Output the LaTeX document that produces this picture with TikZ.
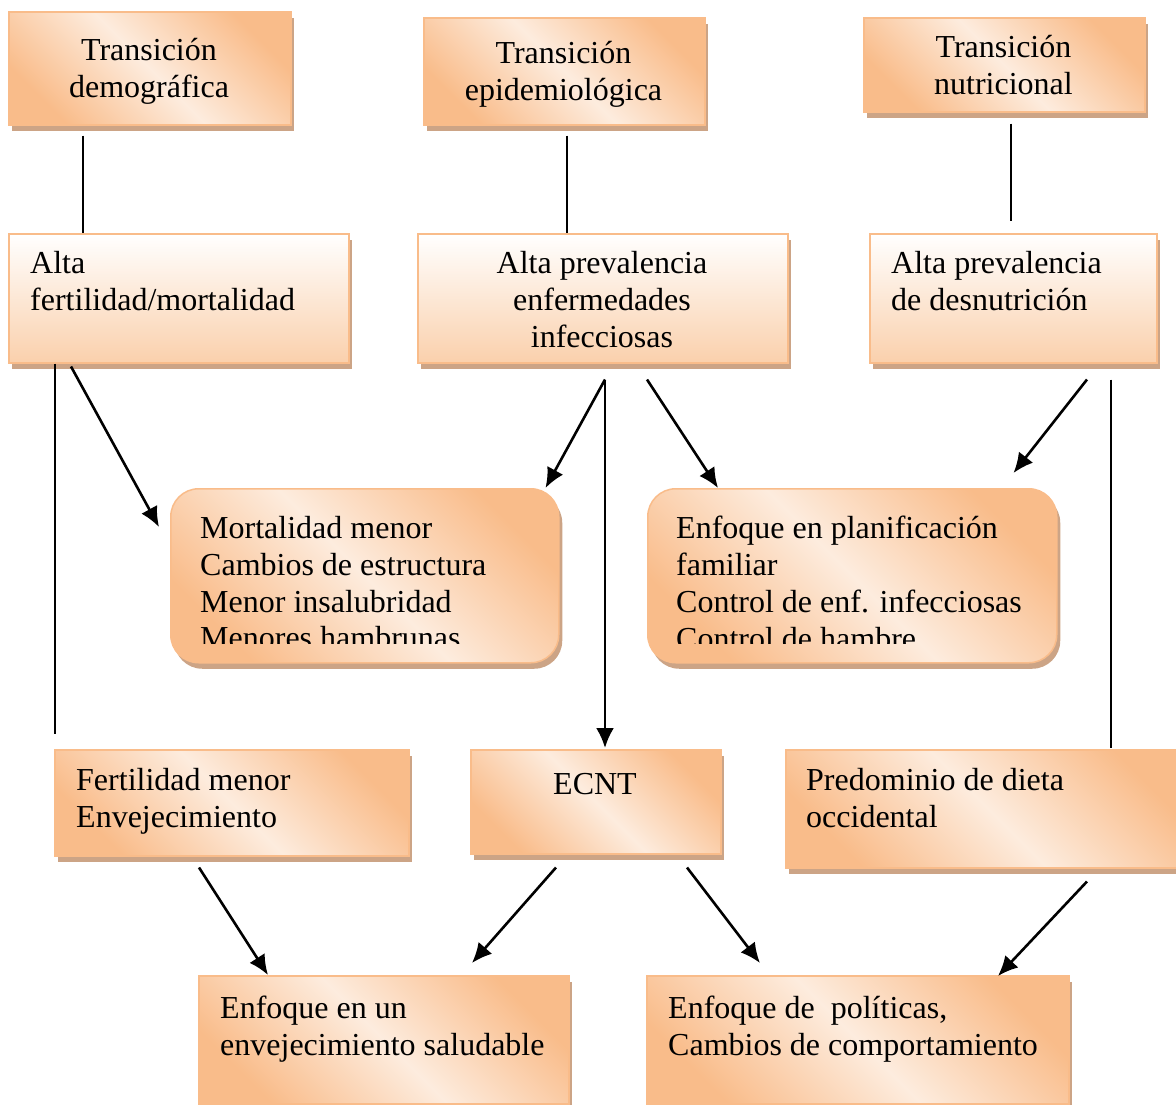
\documentclass[tikz,border=0pt]{standalone}
\usepackage{fontspec}
\setmainfont{Liberation Serif}
\usetikzlibrary{arrows.meta,shadows}
\definecolor{boxorange}{RGB}{249,188,138}
\definecolor{boxlight}{RGB}{253,236,222}
\definecolor{boxpeach}{RGB}{250,208,172}
\definecolor{boxshadow}{RGB}{204,164,134}
\newcommand{\boxfont}{\fontsize{32}{36.8}\selectfont}

\begin{document}
\begin{tikzpicture}%
	[x=1pt, y=-1pt,
	box/.style={rectangle, inner sep=0pt, anchor=north west, draw=boxorange, line width=1.5pt,
		left color=boxorange, right color=boxorange, middle color=boxlight, shading angle=135,
		general shadow={fill=boxshadow, shadow xshift=3.5pt, shadow yshift=-6pt}},
	fadebox/.style={box, top color=white, bottom color=boxpeach},
	roundbox/.style={box, rounded corners=28pt},
	txt/.style={inner sep=0pt, font=\boxfont, execute at begin node=\strut},
	link/.style={color=black, line width=2.6pt},
	arrow/.style={link, -{Latex[length=20pt, width=18pt]}}]
	%
	\useasboundingbox (0,0) rectangle (1176,1104);
	%%
	%% First row: the three transitions
	%%
	\node[box, minimum width=282, minimum height=113] (demog) at (8,11) {};
	\node[box, minimum width=281, minimum height=107] (epidem) at (423,17) {};
	\node[box, minimum width=281, minimum height=94] (nutric) at (863,17) {};
	\node[txt, anchor=north, align=center] (demogtext) at ([shift={(141,27.5)}]demog.north west) {Transición\\demográfica};
	\node[txt, anchor=north, align=center] (epidemtext) at ([shift={(140.5,24.5)}]epidem.north west) {Transición\\epidemiológica};
	\node[txt, anchor=north, align=center] (nutrictext) at ([shift={(140.5,18.5)}]nutric.north west) {Transición\\nutricional};
	%%
	%% Second row: high prevalence
	%%
	\node[fadebox, minimum width=340, minimum height=129] (altafert) at (8,233) {};
	\node[fadebox, minimum width=370, minimum height=129] (altaepi) at (417,233) {};
	\node[fadebox, minimum width=287, minimum height=129] (altanut) at (869,233) {};
	\node[txt, anchor=north west, align=left] (altaferttext) at ([shift={(22,18.5)}]altafert.north west) {Alta\\fertilidad/mortalidad};
	\node[txt, anchor=north, align=center] (altaepitext) at ([shift={(185,18.5)}]altaepi.north west) {Alta prevalencia\\enfermedades\\infecciosas};
	\node[txt, anchor=north west, align=left] (altanuttext) at ([shift={(22,18.5)}]altanut.north west) {Alta prevalencia\\de desnutrición};
	%%
	%% Third row: rounded boxes, text cut at the bottom
	%%
	\node[roundbox, minimum width=388, minimum height=174] (mortal) at (170,488) {};
	\node[roundbox, minimum width=409, minimum height=174] (planif) at (647,488) {};
	\begin{scope}
		\clip (mortal.north west) rectangle ([shift={(0,-20)}]mortal.south east);
		\node[txt, anchor=north west, align=left] (mortaltext) at ([shift={(30,28)}]mortal.north west) {Mortalidad menor\\Cambios de estructura\\Menor insalubridad\\Menores hambrunas};
	\end{scope}
	\begin{scope}
		\clip (planif.north west) rectangle ([shift={(0,-20)}]planif.south east);
		\node[txt, anchor=north west, align=left] (planiftext) at ([shift={(29,28)}]planif.north west) {Enfoque en planificación\\familiar\\Control de enf. infecciosas\\Control de hambre};
	\end{scope}
	%%
	%% Fourth row
	%%
	\node[box, minimum width=354, minimum height=106] (fert) at (54,749) {};
	\node[box, minimum width=250, minimum height=104] (ecnt) at (470,749) {};
	\node[box, minimum width=405, minimum height=118] (dieta) at (785,749) {};
	\node[txt, anchor=north west, align=left] (ferttext) at ([shift={(22,19.5)}]fert.north west) {Fertilidad menor\\Envejecimiento};
	\node[txt, anchor=north] (ecnttext) at ([shift={(125,19.5)}]ecnt.north west) {ECNT};
	\node[txt, anchor=north west, align=left] (dietatext) at ([shift={(21,19.5)}]dieta.north west) {Predominio de dieta\\occidental};
	%%
	%% Last row: the approaches
	%%
	\node[box, minimum width=370, minimum height=128] (envej) at (198,975) {};
	\node[box, minimum width=422, minimum height=128] (polit) at (646,975) {};
	\node[txt, anchor=north west, align=left] (envejtext) at ([shift={(22,20.5)}]envej.north west) {Enfoque en un\\envejecimiento saludable};
	\node[txt, anchor=north west, align=left] (polittext) at ([shift={(22,20.5)}]polit.north west) {Enfoque de\ \ políticas,\\Cambios de comportamiento};
	%%
	%% Connectors
	%%
	\draw[link] ([shift={(75,10)}]demog.south west) -- ([shift={(75,0)}]altafert.north west);
	\draw[link] ([shift={(144,10)}]epidem.south west) -- ([shift={(150,0)}]altaepi.north west);
	\draw[link] ([shift={(148,11)}]nutric.south west) -- ([shift={(142,-12)}]altanut.north west);
	%
	\draw[link] ([shift={(47,0)}]altafert.south west) -- ([shift={(1,-15)}]fert.north west);
	\draw[arrow] ([shift={(63,3)}]altafert.south west) -- ([shift={(-11,39)}]mortal.north west);
	\draw[arrow] ([shift={(188,16)}]altaepi.south west) -- ([shift={(-14,0)}]mortal.north east);
	\draw[arrow] ([shift={(188,16)}]altaepi.south west) -- ([shift={(135,-1)}]ecnt.north west);
	\draw[arrow] ([shift={(230,16)}]altaepi.south west) -- ([shift={(71,0)}]planif.north west);
	\draw[arrow] ([shift={(218,16)}]altanut.south west) -- ([shift={(-44,-15)}]planif.north east);
	\draw[link] ([shift={(242,16)}]altanut.south west) -- ([shift={(326,-1)}]dieta.north west);
	%
	\draw[arrow] ([shift={(145,11)}]fert.south west) -- ([shift={(70,0)}]envej.north west);
	\draw[arrow] ([shift={(86,13)}]ecnt.south west) -- ([shift={(274,-12)}]envej.north west);
	\draw[arrow] ([shift={(217,13)}]ecnt.south west) -- ([shift={(114,-12)}]polit.north west);
	\draw[arrow] ([shift={(302,13)}]dieta.south west) -- ([shift={(352,1)}]polit.north west);
\end{tikzpicture}
\end{document}
